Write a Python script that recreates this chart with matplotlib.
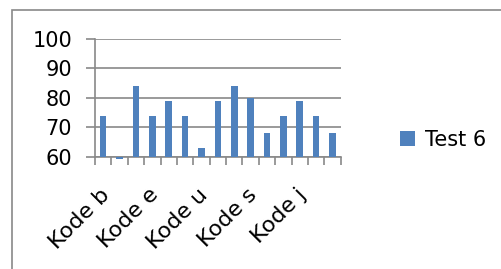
import numpy as np
import matplotlib
matplotlib.use("Agg")
import matplotlib.pyplot as plt
import matplotlib.transforms as mtransforms
from matplotlib.patches import Rectangle

# categories (only every third name is readable in the source chart)
categories = ["Kode b", "", "", "Kode e", "", "", "Kode u", "", "",
              "Kode s", "", "", "Kode j", "", ""]
test6 = [74, 59.1, 84, 74, 79, 74, 63, 79, 84, 80, 68, 74, 79, 74, 68]
series_name = "Test 6"
yticks = [60, 70, 80, 90, 100]

plt.rcParams['font.family'] = ['DejaVu Sans']
grey = '#898989'
blue = '#4F81BD'

fig = plt.figure(figsize=(5.02, 2.69), dpi=100)
ax = fig.add_axes([95/502, 1 - 156.7/269, (340.7 - 95)/502, (156.7 - 39)/269])

x = np.arange(len(test6))
base = yticks[0]
ax.bar(x, np.array(test6) - base, bottom=base, width=0.4, color=blue,
       label=series_name, zorder=3, clip_on=False)

ax.set_xlim(-0.5, len(test6) - 0.5)
ax.set_ylim(yticks[0], yticks[-1])
ax.set_yticks(yticks)
ax.tick_params(axis='y', length=6.5, width=1.2, color=grey, labelsize=15, pad=10)
ax.yaxis.grid(True, color=grey, linewidth=1.2, zorder=0)
ax.set_axisbelow(True)

# labels at every third category, tick marks at category boundaries
shown = [i for i, c in enumerate(categories) if c]
ax.set_xticks(shown)
ax.set_xticklabels([categories[i] for i in shown], rotation=45, ha='right',
                   va='top', rotation_mode='anchor', fontsize=16)
ax.tick_params(axis='x', which='major', length=0, pad=20)
ax.set_xticks(np.arange(len(test6) + 1) - 0.5, minor=True)
ax.tick_params(axis='x', which='minor', length=6, width=1.2, color=grey)

# nudge the rotated labels a little to the left
shift = mtransforms.ScaledTranslation(-4/100, 0, fig.dpi_scale_trans)
for lbl in ax.get_xticklabels():
    lbl.set_transform(lbl.get_transform() + shift)

for s in ['top', 'right']:
    ax.spines[s].set_visible(False)
for s in ['left', 'bottom']:
    ax.spines[s].set_color(grey)
    ax.spines[s].set_linewidth(1.2)

fig.legend(loc='center left', bbox_to_anchor=(392/502, 1 - 140/269),
           frameon=False, fontsize=15, handlelength=0.7, handleheight=0.7,
           handletextpad=0.5, borderaxespad=0)

fig.patches.append(Rectangle((12/502, -0.1), 1.2, 0.1 + 1 - 10/269,
                             transform=fig.transFigure, fill=False,
                             edgecolor=grey, linewidth=1.2))

fig.savefig("out.png", dpi=100)
